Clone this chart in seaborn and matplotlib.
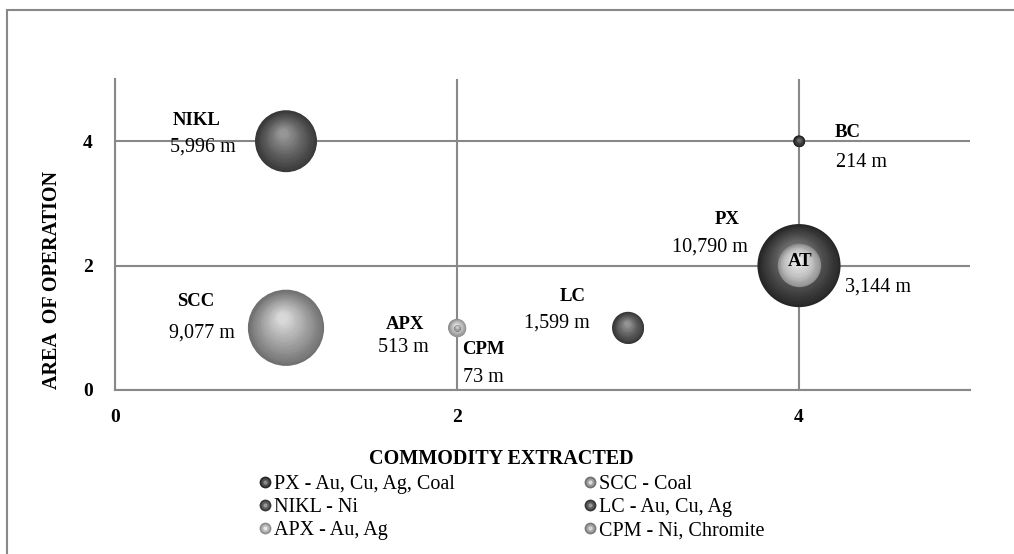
import numpy as np
import pandas as pd
import matplotlib
matplotlib.use("Agg")
import matplotlib.pyplot as plt
import matplotlib.transforms as mtransforms
from matplotlib.lines import Line2D
from matplotlib.patches import Rectangle
from matplotlib.legend_handler import HandlerTuple
import seaborn as sns

# ---- data -------------------------------------------------------------
sites = ["PX", "AT", "SCC", "NIKL", "LC", "APX", "BC", "CPM"]
commodity = [4, 4, 1, 1, 3, 2, 4, 2]
area = [2, 2, 1, 4, 1, 1, 4, 1]
depth_m = [10790, 3144, 9077, 5996, 1599, 513, 214, 73]

legend_sites = ["PX", "NIKL", "APX", "SCC", "LC", "CPM"]
legend_text = ["PX - Au, Cu, Ag, Coal", "NIKL - Ni", "APX - Au, Ag",
               "SCC - Coal", "LC - Au, Cu, Ag", "CPM - Ni, Chromite"]

x_ticks = [0, 2, 4]
y_ticks = [0, 2, 4]

df = pd.DataFrame({"site": sites, "commodity": commodity,
                   "area": area, "depth": depth_m})

# ---- style ------------------------------------------------------------
sns.set_theme(style="white")
plt.rcParams["font.family"] = ["Liberation Serif", "DejaVu Serif"]
plt.rcParams["text.color"] = "black"
plt.rcParams["axes.labelcolor"] = "black"

GRID = "#888888"
# sphere shading: rim, body, highlight
shade = {
    "PX":   ("#262626", "#4e4e4e", "#8a8a8a"),
    "AT":   ("#8a8a8a", "#c0c0c0", "#f0f0f0"),
    "SCC":  ("#707070", "#9c9c9c", "#dcdcdc"),
    "NIKL": ("#383838", "#5c5c5c", "#9a9a9a"),
    "LC":   ("#363636", "#5a5a5a", "#989898"),
    "APX":  ("#8e8e8e", "#b6b6b6", "#e6e6e6"),
    "BC":   ("#1e1e1e", "#383838", "#747474"),
    "CPM":  ("#7a7a7a", "#a4a4a4", "#d6d6d6"),
}

DPI = 100
W, H = 1014, 554
fig = plt.figure(figsize=(W / DPI, H / DPI), dpi=DPI)
ax = fig.add_axes([115 / W, 1 - 390 / H, (970 - 115) / W, (390 - 79) / H])

# bubble area proportional to depth: diameter(px) = 0.8 * sqrt(depth)
PX_PER_SQRT = 0.8
pt_per_px = 72 / DPI
size_k = (PX_PER_SQRT * pt_per_px) ** 2
vmax = max(depth_m)

sns.scatterplot(data=df, x="commodity", y="area", hue="site",
                palette={s: shade[s][0] for s in sites},
                size="depth", sizes=(0, size_k * vmax), size_norm=(0, vmax),
                linewidth=0, legend=False, ax=ax, zorder=3)


def blend(c1, c2, t):
    a = np.array(matplotlib.colors.to_rgb(c1))
    b = np.array(matplotlib.colors.to_rgb(c2))
    return tuple(a + (b - a) * t)


# layered shading for a 3-D sphere look
n_layers = 26
for i, row in df.iterrows():
    rim, body, hi = shade[row.site]
    R = 0.5 * np.sqrt(size_k * row.depth)  # radius in points
    for k in range(1, n_layers):
        t = k / n_layers
        r = R * (1 - 0.9 * t)
        dx, dy = -0.10 * R * t, 0.28 * R * t
        if t < 0.4:
            col = blend(rim, body, t / 0.4)
        else:
            col = blend(body, hi, (t - 0.4) / 0.6)
        tr = mtransforms.offset_copy(ax.transData, fig=fig, x=dx, y=dy,
                                     units="points")
        ax.scatter([row.commodity], [row.area], s=(2 * r) ** 2, color=col,
                   linewidths=0, transform=tr, zorder=3 + i * 0.01 + t * 0.001)

# ---- axes -------------------------------------------------------------
ax.set_xlim(0, 5)
ax.set_ylim(0, 5)
ax.set_xticks(x_ticks)
ax.set_yticks(y_ticks)
ax.grid(True, color=GRID, lw=1.5)
ax.set_axisbelow(True)
for s in ["top", "right"]:
    ax.spines[s].set_visible(False)
for s in ["left", "bottom"]:
    ax.spines[s].set_color(GRID)
    ax.spines[s].set_linewidth(1.5)
ax.tick_params(axis="both", direction="inout", length=8, width=1.5,
               color=GRID, labelsize=14, labelcolor="black")
ax.tick_params(axis="y", pad=12)
ax.tick_params(axis="x", pad=10)
for lab in ax.get_xticklabels() + ax.get_yticklabels():
    lab.set_fontweight("bold")

ax.set_xlabel("COMMODITY EXTRACTED", fontsize=14.5, fontweight="bold")
ax.set_ylabel("AREA  OF OPERATION", fontsize=14.5, fontweight="bold")
ax.xaxis.set_label_coords((501 - 115) / 855, (390 - 459) / 311)
ax.yaxis.set_label_coords((52 - 115) / 855, (390 - 280) / 311)
ax.xaxis.label.set_va("center")
ax.yaxis.label.set_va("center")

# ---- data labels ------------------------------------------------------
name_off = {"NIKL": (-89, 21), "SCC": (-90, 26), "APX": (-52, 3),
            "CPM": (26, -22), "LC": (-55, 31), "BC": (49, 9),
            "PX": (-72, 46), "AT": (1, 4)}
value_off = {"NIKL": (-83, -6), "SCC": (-84, -5), "APX": (-54, -20),
             "CPM": (26, -50), "LC": (-71, 5), "BC": (63, -21),
             "PX": (-89, 19), "AT": (79, -21)}
for _, row in df.iterrows():
    ax.annotate(row.site, (row.commodity, row.area),
                xytext=name_off[row.site], textcoords="offset pixels",
                ha="center", va="center", fontsize=13.5,
                fontweight="bold", zorder=10)
    ax.annotate(f"{row.depth:,} m", (row.commodity, row.area),
                xytext=value_off[row.site], textcoords="offset pixels",
                ha="center", va="center", fontsize=14.5, zorder=10)

# ---- legend -----------------------------------------------------------
def sphere_handle(site):
    rim, body, hi = shade[site]
    return (Line2D([], [], ls="", marker="o", ms=8.5, mfc=rim, mec="none"),
            Line2D([], [], ls="", marker="o", ms=6.0, mfc=body, mec="none"),
            Line2D([], [], ls="", marker="o", ms=3.0, mfc=hi, mec="none"))


handles = [sphere_handle(s) for s in legend_sites]
for col, x0 in enumerate([259, 584]):
    fig.legend(handles[3 * col:3 * col + 3],
               legend_text[3 * col:3 * col + 3],
               loc="upper left", bbox_to_anchor=(x0 / W, 1 - 475 / H),
               frameon=False, fontsize=14.5, borderpad=0,
               borderaxespad=0, handlelength=0.55, handletextpad=0.2,
               labelspacing=0.2, labelcolor="black",
               handler_map={tuple: HandlerTuple(ndivide=1, pad=0)})

# chart border
fig.add_artist(Rectangle((7 / W, -0.2), 1.5, 1 - 10 / H + 0.2,
                         transform=fig.transFigure, fill=False,
                         ec=GRID, lw=1.5, clip_on=False))

fig.savefig("out.png", dpi=DPI)
